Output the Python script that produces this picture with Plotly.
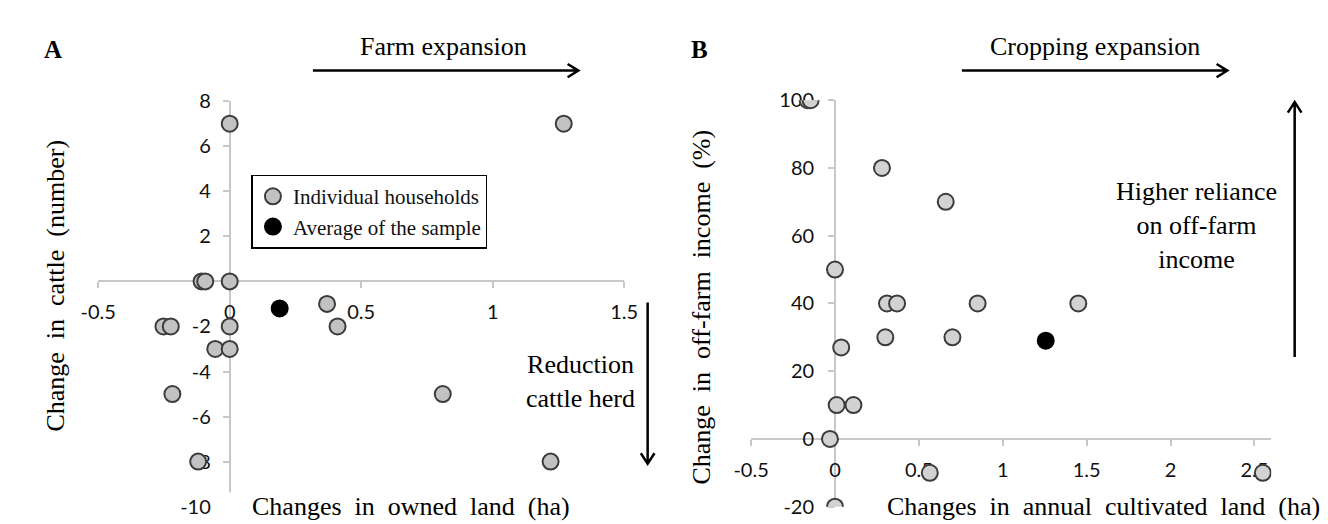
import math
import plotly.graph_objects as go

W, H = 1328, 524

# ---------------- data ----------------
# Panel A: change in owned land (ha) vs change in cattle (number)
a_house_x = [0, 1.27, -0.107, -0.093, 0, 0.37, -0.252, -0.224, 0, 0.41, -0.055, 0, -0.218, 0.81, -0.12, 1.22]
a_house_y = [7, 7, 0, 0, 0, -1, -2, -2, -2, -2, -3, -3, -5, -5, -8, -8]
a_avg_x = [0.19]
a_avg_y = [-1.2]
a_xticks = [-0.5, 0, 0.5, 1, 1.5]
a_xticklabels = ["-0.5", "0", "0.5", "1", "1.5"]
a_yticks = [8, 6, 4, 2, 0, -2, -4, -6, -8, -10]
a_yticklabels = ["8", "6", "4", "2", "0", "-2", "-4", "-6", "-8", "-10"]

# Panel B: change in annual cultivated land (ha) vs change in off-farm income (%)
b_house_x = [-0.163, -0.145, 0.28, 0.66, 0, 0.31, 0.37, 0.85, 1.45, 0.30, 0.70, 0.037, 0.01, 0.11, -0.03, 0.565, 2.55, 0]
b_house_y = [100, 100, 80, 70, 50, 40, 40, 40, 40, 30, 30, 27, 10, 10, 0, -10, -10, -20]
b_avg_x = [1.256]
b_avg_y = [29]
b_xticks = [-0.5, 0, 0.5, 1, 1.5, 2, 2.5]
b_xticklabels = ["-0.5", "0", "0.5", "1", "1.5", "2", "2.5"]
b_yticks = [100, 80, 60, 40, 20, 0, -20]
b_yticklabels = ["100", "80", "60", "40", "20", "0", "-20"]

# ---------------- layout helpers ----------------
def px(x):
    return x / W

def py(y):
    return 1 - y / H

SERIF = "Liberation Serif"
SANS = "Lato"
AXIS_COL = "#c8c8c8"
TXT = "#111111"

A_XR = [-0.5, 1.5]
A_YR = [-10, 8]
B_XR = [-0.5, 2.6]
B_YR = [-20, 100]

A_XDOM = [px(74), px(613)]
A_YDOM = [py(509), py(84)]
B_XDOM = [px(743), px(1276)]
B_YDOM = [py(509), py(83)]


def zero_pos(rng, dom):
    f = (0 - rng[0]) / (rng[1] - rng[0])
    return dom[0] + f * (dom[1] - dom[0])


house_marker_a = dict(size=16, color="#c2c2c2", line=dict(color="#3c3c3c", width=2))
house_marker_b = dict(size=16, color="#d2d2d2", line=dict(color="#3c3c3c", width=2))
avg_marker = dict(size=16, color="#000000", line=dict(color="#000000", width=2))

fig = go.Figure()
fig.add_trace(go.Scatter(x=a_house_x, y=a_house_y, mode="markers", marker=house_marker_a,
                         name="Individual households", xaxis="x", yaxis="y"))
fig.add_trace(go.Scatter(x=a_avg_x, y=a_avg_y, mode="markers", marker=avg_marker,
                         name="Average of the sample", xaxis="x", yaxis="y"))
fig.add_trace(go.Scatter(x=b_house_x, y=b_house_y, mode="markers", marker=house_marker_b,
                         name="Individual households", showlegend=False, xaxis="x2", yaxis="y2"))
fig.add_trace(go.Scatter(x=b_avg_x, y=b_avg_y, mode="markers", marker=avg_marker,
                         name="Average of the sample", showlegend=False, xaxis="x2", yaxis="y2"))

common_axis = dict(showgrid=False, zeroline=False, showline=True, linecolor=AXIS_COL, linewidth=1.8,
                   ticks="outside", ticklen=6, tickwidth=1.5, tickcolor=AXIS_COL,
                   tickfont=dict(family=SANS, size=20, color=TXT), layer="below traces",
                   fixedrange=True)

fig.update_layout(
    width=W, height=H,
    margin=dict(l=0, r=0, t=0, b=0),
    paper_bgcolor="white", plot_bgcolor="white",
    showlegend=True,
    legend=dict(x=px(231), y=py(161), xanchor="left", yanchor="top",
                bordercolor="#000000", borderwidth=1.5, bgcolor="white",
                font=dict(family=SERIF, size=21, color=TXT),
                tracegroupgap=0, itemwidth=30),
    xaxis=dict(common_axis, domain=A_XDOM, range=A_XR, anchor="free",
               position=zero_pos(A_YR, A_YDOM), tickmode="array",
               tickvals=a_xticks, ticktext=a_xticklabels, ticklabelstandoff=7),
    yaxis=dict(common_axis, domain=A_YDOM, range=A_YR, anchor="free",
               position=zero_pos(A_XR, A_XDOM), tickmode="array",
               tickvals=a_yticks, ticktext=a_yticklabels, ticklabelstandoff=8),
    xaxis2=dict(common_axis, domain=B_XDOM, range=B_XR, anchor="free",
                position=zero_pos(B_YR, B_YDOM), tickmode="array",
                tickvals=b_xticks, ticktext=b_xticklabels, ticklabelstandoff=7),
    yaxis2=dict(common_axis, domain=B_YDOM, range=B_YR, anchor="free",
                position=zero_pos(B_XR, B_XDOM), tickmode="array",
                tickvals=b_yticks, ticktext=b_yticklabels, ticklabelstandoff=10),
)

# white mask where the x-axis title box hides the lower end of panel A's y axis
fig.add_shape(type="rect", xref="paper", yref="paper", x0=px(198), x1=px(216), y0=py(524), y1=py(494),
              line=dict(width=0), fillcolor="white", layer="above")


def text(x, y, s, size=26, bold=False, angle=0, bg=None):
    fig.add_annotation(x=px(x), y=py(y), xref="paper", yref="paper", text=(f"<b>{s}</b>" if bold else s),
                       showarrow=False, textangle=angle, xanchor="center", yanchor="middle",
                       font=dict(family=SERIF, size=size, color="#000000"),
                       bgcolor=bg)

text(28, 30, "A", size=25, bold=True)
text(690, 30, "B", size=25, bold=True)
text(428, 27, "Farm expansion")
text(1095, 27, "Cropping expansion")
text(568, 378, "Reduction<br>cattle herd")
text(1199, 214, "Higher reliance<br>on off-farm<br>income")
text(395, 509, "Changes  in  owned  land  (ha)", bg="white")
text(1104, 509, "Changes  in  annual  cultivated  land  (ha)", bg="white")
text(30, 277, "Change  in  cattle  (number)", angle=-90)
text(692, 300, "Change  in  off-farm  income  (%)", angle=-90)


def arrow(x0, y0, x1, y1, head=11, half=7):
    # straight arrow with open V head, coordinates in pixels
    dx, dy = x1 - x0, y1 - y0
    L = math.hypot(dx, dy)
    ux, uy = dx / L, dy / L
    nx, ny = -uy, ux
    hx1, hy1 = x1 - ux * head + nx * half, y1 - uy * head + ny * half
    hx2, hy2 = x1 - ux * head - nx * half, y1 - uy * head - ny * half
    path = (f"M {px(x0)} {py(y0)} L {px(x1)} {py(y1)} "
            f"M {px(hx1)} {py(hy1)} L {px(x1)} {py(y1)} L {px(hx2)} {py(hy2)}")
    fig.add_shape(type="path", path=path, xref="paper", yref="paper",
                  line=dict(color="#000000", width=2.5))

arrow(294, 52, 566, 52)
arrow(959, 52, 1231, 52)
arrow(637, 295, 637, 464)
arrow(1300, 352, 1300, 85)

fig.write_html("out.html")
